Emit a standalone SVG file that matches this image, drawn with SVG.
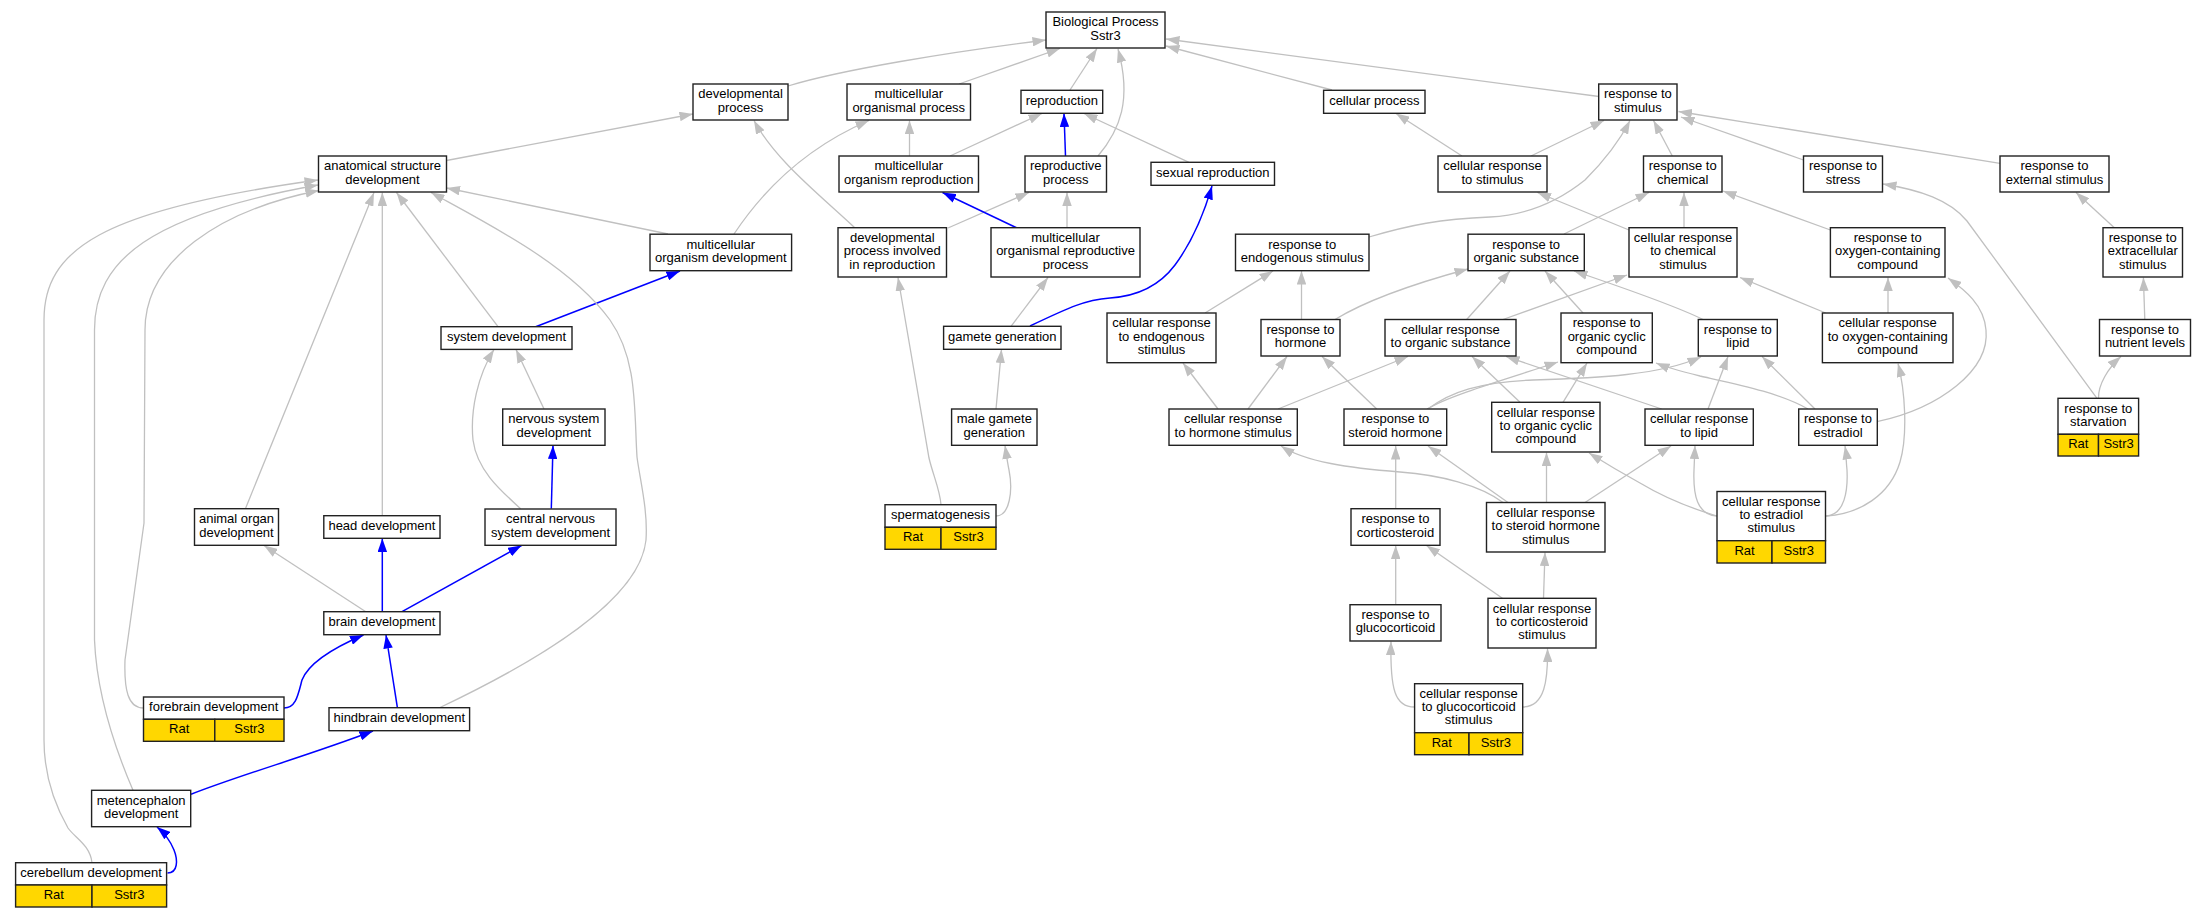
<svg xmlns="http://www.w3.org/2000/svg" width="2207" height="917" viewBox="0 0 2207 917">
<style>
.n rect{fill:#fff;stroke:#222;stroke-width:1.4}
.n rect.y{fill:#ffd700}
text{font-family:"Liberation Sans",Arial,sans-serif;font-size:13px;text-anchor:middle;fill:#000}
#edges path{fill:none;stroke:#c0c0c0;stroke-width:1.3;marker-end:url(#ag)}
#edges path.b{stroke:#0000ff;stroke-width:1.5;marker-end:url(#ab)}
</style>
<defs>
<marker id="ag" viewBox="0 0 13.5 9.5" refX="13.5" refY="4.75" markerWidth="13.5" markerHeight="9.5" markerUnits="userSpaceOnUse" orient="auto"><path d="M0,0 L13.5,4.75 L0,9.5 z" fill="#c0c0c0"/></marker>
<marker id="ab" viewBox="0 0 13.5 9.5" refX="13.5" refY="4.75" markerWidth="13.5" markerHeight="9.5" markerUnits="userSpaceOnUse" orient="auto"><path d="M0,0 L13.5,4.75 L0,9.5 z" fill="#0000ff"/></marker>
</defs>
<rect width="2207" height="917" fill="#fff"/>
<g id="edges">
<path d="M788,86 C840,70 950,52 1046,40"/>
<path d="M959,84 L1060,48.5"/>
<path d="M1070,90 L1097,48.5"/>
<path d="M1098,156 C1120,130 1132,100 1118,49"/>
<path d="M1332,90 L1166,46"/>
<path d="M1599,96.5 L1166,39"/>
<path d="M446.5,160.5 L693,114"/>
<path d="M668,234 L446.5,188"/>
<path d="M734,234 C760,195 800,150 869,120.5"/>
<path d="M855,228 C820,195 775,160 754,120.5"/>
<path d="M948,228 L1029,192.5"/>
<path d="M909.5,156 L909.5,120.5"/>
<path d="M950,156 L1042,113.5"/>
<path class="b" d="M1065.5,156 L1064,113.5"/>
<path d="M1189,162.3 L1084,113.5"/>
<path class="b" d="M1017,228 L942.5,192.5"/>
<path d="M1067,228 L1067,192.5"/>
<path d="M1011,326.3 L1048,277.5"/>
<path class="b" d="M1030,326 C1070,307 1085,300 1110,298 C1140,296 1160,285 1175,265 C1195,238 1205,210 1212,186"/>
<path d="M996,409 L1001.5,349.5"/>
<path d="M996,516 C1010,516 1013,490 1009,470 C1007,460 1006,452 1005,445.5"/>
<path d="M941,504.7 C940,490 933,475 929,458 L898,277.5"/>
<path class="b" d="M535.7,326.7 L680,271"/>
<path d="M498,326.7 L396.5,192.5"/>
<path d="M544,409 L516,349.5"/>
<path d="M520.6,508.7 C500,490 477,470 473,440 C470,410 478,375 494,349.5"/>
<path class="b" d="M551.3,508.7 L553,445.5"/>
<path d="M245.4,508.7 L374,192.5"/>
<path d="M382.3,515.7 L382.3,192.5"/>
<path d="M365.8,611.7 L264,545.5"/>
<path class="b" d="M382.3,611.7 L382.3,538.5"/>
<path class="b" d="M402,611.7 L521.5,545.5"/>
<path class="b" d="M284,708 C296,708 298,695 302,680 C310,660 340,645 363.5,635"/>
<path d="M143.5,708 C128,708 124,690 125,660 L144,523 L145,330 C145,260 220,210 319,190.5"/>
<path class="b" d="M397.4,707.7 L386,635"/>
<path d="M439,708 C540,660 640,600 646,540 C648,510 640,480 637,457 C634,410 638,360 610,320 C570,265 490,225 431,192.5"/>
<path class="b" d="M191,794.3 C240,775 310,755 373,731"/>
<path d="M133,790.3 C120,760 97,700 94.5,640 L94.5,330 C94.5,260 150,215 318,185"/>
<path class="b" d="M167.5,873 C178,873 178,860 174,850 C170,840 163,832 157,827"/>
<path d="M92,862.7 C90,845 75,838 68,828 C52,800 44,770 44,740 L44,320 C44,250 100,210 318,180"/>
<path d="M1462,156 L1396,113.5"/>
<path d="M1531,156 L1604,120.5"/>
<path d="M1369,237 C1410,225 1440,219 1490,217 C1530,215 1560,200 1585,180 C1605,160 1620,140 1630,120.5"/>
<path d="M1672.3,156 L1653.5,120.5"/>
<path d="M1803.5,160 L1681,117"/>
<path d="M2000,163.3 L1678.5,111.5"/>
<path d="M1629,230 L1537.5,192.5"/>
<path d="M1684,228 L1684,192.5"/>
<path d="M1564,234 L1649,192.5"/>
<path d="M1830.4,230 L1723,191"/>
<path d="M2114.6,228 L2076,192.5"/>
<path d="M2144.8,319.5 L2143.4,277.5"/>
<path d="M2098.5,398.3 C2098,385 2108,368 2121,356.5"/>
<path d="M2097,398.3 L1967,221 C1950,200 1920,190 1883,184"/>
<path d="M1205,313 L1273,271"/>
<path d="M1301.5,319.5 L1301.5,271"/>
<path d="M1335,319.5 C1370,298 1420,282 1468,269"/>
<path d="M1466.7,319.5 L1510,271"/>
<path d="M1503,319.5 L1627,275"/>
<path d="M1583,313 L1545,271"/>
<path d="M1703,319.5 C1680,308 1630,290 1574,271"/>
<path d="M1825.7,313 L1740,277.5"/>
<path d="M1888,313 L1888,277.5"/>
<path d="M1877,421.7 C1940,408 1990,370 1986,330 C1984,305 1965,290 1948,278"/>
<path d="M1826,516 C1860,514 1890,495 1900,462 C1908,435 1905,390 1898,363.5"/>
<path d="M1826,516 C1845,515 1848,490 1847,470 C1846,460 1846,452 1845,446"/>
<path d="M1717,516 C1697,515 1693,495 1694,470 L1695,445.5"/>
<path d="M1717,516 C1690,508 1660,495 1640,483 C1620,472 1605,463 1589,453"/>
<path d="M1546.5,502.5 L1546.5,452.5"/>
<path d="M1585,502.5 L1671,446"/>
<path d="M1508,502.5 L1428,446"/>
<path d="M1503,502.5 C1480,485 1440,475 1400,472 C1350,468 1305,462 1281,446"/>
<path d="M1395.7,508.7 L1395.7,446"/>
<path d="M1395.7,604.7 L1395.7,545.5"/>
<path d="M1502.4,598.3 L1426.5,545.5"/>
<path d="M1543.5,598.3 L1545,552.5"/>
<path d="M1414.6,707 C1395,707 1390,690 1391,641.5"/>
<path d="M1522.7,707 C1545,707 1548,680 1547.5,648.5"/>
<path d="M1218,409 L1183,363"/>
<path d="M1248,409 L1287,356.5"/>
<path d="M1278,409 L1408,356.5"/>
<path d="M1376.7,409 L1322,356.5"/>
<path d="M1427,409 C1450,395 1510,378 1558,362"/>
<path d="M1428,409 C1450,392 1480,382 1533,380 C1600,378 1660,375 1701,357"/>
<path d="M1563,402.3 L1587,363"/>
<path d="M1520,402.3 L1472,356.5"/>
<path d="M1661.7,409 L1506,356.5"/>
<path d="M1708,409 L1728,356.5"/>
<path d="M1815,409 L1762,356.5"/>
<path d="M1808,409 C1780,393 1740,385 1700,376 C1680,371 1668,368 1656,363"/>
</g>
<g id="bp" class="n"><rect x="1046" y="12" width="119" height="36"/><text x="1105.5" y="26.3">Biological Process</text><text x="1105.5" y="39.5">Sstr3</text></g>
<g id="devproc" class="n"><rect x="693" y="84" width="95" height="36"/><text x="740.5" y="98.3">developmental</text><text x="740.5" y="111.6">process</text></g>
<g id="mop" class="n"><rect x="847" y="84" width="123.5" height="36"/><text x="908.75" y="98.3">multicellular</text><text x="908.75" y="111.6">organismal process</text></g>
<g id="repro" class="n"><rect x="1021" y="90.3" width="81.7" height="23"/><text x="1061.9" y="104.7">reproduction</text></g>
<g id="cellproc" class="n"><rect x="1323.6" y="90.3" width="101.4" height="23"/><text x="1374.3" y="104.7">cellular process</text></g>
<g id="rstim" class="n"><rect x="1598.7" y="84" width="78.3" height="36"/><text x="1637.9" y="98.3">response to</text><text x="1637.9" y="111.6">stimulus</text></g>
<g id="asd" class="n"><rect x="318.5" y="156" width="128" height="36"/><text x="382.5" y="170.3">anatomical structure</text><text x="382.5" y="183.6">development</text></g>
<g id="mor" class="n"><rect x="839" y="156" width="139.5" height="36"/><text x="908.75" y="170.3">multicellular</text><text x="908.75" y="183.6">organism reproduction</text></g>
<g id="rp" class="n"><rect x="1025" y="156" width="81.5" height="36"/><text x="1065.75" y="170.3">reproductive</text><text x="1065.75" y="183.6">process</text></g>
<g id="sexrep" class="n"><rect x="1151" y="162.3" width="123.5" height="23"/><text x="1212.75" y="176.7">sexual reproduction</text></g>
<g id="crs" class="n"><rect x="1438" y="156" width="109" height="36"/><text x="1492.5" y="170.3">cellular response</text><text x="1492.5" y="183.6">to stimulus</text></g>
<g id="rchem" class="n"><rect x="1643.5" y="156" width="78.5" height="36"/><text x="1682.75" y="170.3">response to</text><text x="1682.75" y="183.6">chemical</text></g>
<g id="rstress" class="n"><rect x="1803.5" y="156" width="79" height="36"/><text x="1843" y="170.3">response to</text><text x="1843" y="183.6">stress</text></g>
<g id="rext" class="n"><rect x="2000" y="156" width="109" height="36"/><text x="2054.5" y="170.3">response to</text><text x="2054.5" y="183.6">external stimulus</text></g>
<g id="mod" class="n"><rect x="650" y="234.2" width="141.6" height="36.5"/><text x="720.8" y="248.7">multicellular</text><text x="720.8" y="262">organism development</text></g>
<g id="dpir" class="n"><rect x="838" y="227.7" width="108.5" height="49.3"/><text x="892.25" y="241.9">developmental</text><text x="892.25" y="255.2">process involved</text><text x="892.25" y="268.5">in reproduction</text></g>
<g id="morp" class="n"><rect x="991" y="227.7" width="149" height="49.3"/><text x="1065.5" y="241.9">multicellular</text><text x="1065.5" y="255.2">organismal reproductive</text><text x="1065.5" y="268.5">process</text></g>
<g id="rendo" class="n"><rect x="1235.5" y="234.2" width="133.5" height="36.5"/><text x="1302.25" y="248.7">response to</text><text x="1302.25" y="262">endogenous stimulus</text></g>
<g id="rorg" class="n"><rect x="1468" y="234.2" width="116.3" height="36.5"/><text x="1526.15" y="248.7">response to</text><text x="1526.15" y="262">organic substance</text></g>
<g id="crchem" class="n"><rect x="1629" y="227.7" width="108" height="49.3"/><text x="1683" y="241.9">cellular response</text><text x="1683" y="255.2">to chemical</text><text x="1683" y="268.5">stimulus</text></g>
<g id="roxy" class="n"><rect x="1830.4" y="227.7" width="114.6" height="49.3"/><text x="1887.7" y="241.9">response to</text><text x="1887.7" y="255.2">oxygen-containing</text><text x="1887.7" y="268.5">compound</text></g>
<g id="rextra" class="n"><rect x="2103" y="227.7" width="79.5" height="49.3"/><text x="2142.75" y="241.9">response to</text><text x="2142.75" y="255.2">extracellular</text><text x="2142.75" y="268.5">stimulus</text></g>
<g id="sysdev" class="n"><rect x="441" y="326.7" width="131" height="22.7"/><text x="506.5" y="341">system development</text></g>
<g id="gamete" class="n"><rect x="943.6" y="326.3" width="117.4" height="23"/><text x="1002.3" y="340.7">gamete generation</text></g>
<g id="crendo" class="n"><rect x="1107" y="313" width="109" height="49.7"/><text x="1161.5" y="327.4">cellular response</text><text x="1161.5" y="340.7">to endogenous</text><text x="1161.5" y="354">stimulus</text></g>
<g id="rhorm" class="n"><rect x="1261" y="319.5" width="79" height="36.5"/><text x="1300.5" y="334">response to</text><text x="1300.5" y="347.3">hormone</text></g>
<g id="crorg" class="n"><rect x="1385" y="319.5" width="131" height="36.5"/><text x="1450.5" y="334">cellular response</text><text x="1450.5" y="347.3">to organic substance</text></g>
<g id="rcyc" class="n"><rect x="1561" y="313" width="91.3" height="49.7"/><text x="1606.65" y="327.4">response to</text><text x="1606.65" y="340.7">organic cyclic</text><text x="1606.65" y="354">compound</text></g>
<g id="rlipid" class="n"><rect x="1698.3" y="319.5" width="79" height="36.5"/><text x="1737.8" y="334">response to</text><text x="1737.8" y="347.3">lipid</text></g>
<g id="croxy" class="n"><rect x="1822.4" y="313" width="130.6" height="49.7"/><text x="1887.7" y="327.4">cellular response</text><text x="1887.7" y="340.7">to oxygen-containing</text><text x="1887.7" y="354">compound</text></g>
<g id="rnutr" class="n"><rect x="2099.5" y="319.5" width="91" height="36.5"/><text x="2145" y="334">response to</text><text x="2145" y="347.3">nutrient levels</text></g>
<g id="nsd" class="n"><rect x="502.7" y="409" width="102.3" height="36.3"/><text x="553.85" y="423.4">nervous system</text><text x="553.85" y="436.7">development</text></g>
<g id="mgg" class="n"><rect x="951.6" y="409" width="85.4" height="36.3"/><text x="994.3" y="423.4">male gamete</text><text x="994.3" y="436.7">generation</text></g>
<g id="crhs" class="n"><rect x="1169" y="409" width="128.3" height="36.3"/><text x="1233.15" y="423.4">cellular response</text><text x="1233.15" y="436.7">to hormone stimulus</text></g>
<g id="rsh" class="n"><rect x="1344" y="409" width="102.7" height="36.3"/><text x="1395.35" y="423.4">response to</text><text x="1395.35" y="436.7">steroid hormone</text></g>
<g id="crcyc" class="n"><rect x="1491.7" y="402.3" width="108.3" height="49.7"/><text x="1545.85" y="416.7">cellular response</text><text x="1545.85" y="430">to organic cyclic</text><text x="1545.85" y="443.3">compound</text></g>
<g id="crlipid" class="n"><rect x="1645" y="409" width="108.3" height="36.3"/><text x="1699.15" y="423.4">cellular response</text><text x="1699.15" y="436.7">to lipid</text></g>
<g id="restr" class="n"><rect x="1798.7" y="409" width="78.6" height="36.3"/><text x="1838" y="423.4">response to</text><text x="1838" y="436.7">estradiol</text></g>
<g id="rstarv" class="n"><rect x="2058" y="398.3" width="80.6" height="36"/><text x="2098.3" y="412.6">response to</text><text x="2098.3" y="425.9">starvation</text><rect class="y" x="2058" y="434.3" width="40.5" height="21.7"/><rect class="y" x="2098.5" y="434.3" width="40.1" height="21.7"/><text x="2078.25" y="448">Rat</text><text x="2118.55" y="448">Sstr3</text></g>
<g id="aod" class="n"><rect x="194.5" y="508.7" width="84" height="36.6"/><text x="236.5" y="523.2">animal organ</text><text x="236.5" y="536.5">development</text></g>
<g id="headdev" class="n"><rect x="323.8" y="515.7" width="116.2" height="22.6"/><text x="381.9" y="529.9">head development</text></g>
<g id="cnsd" class="n"><rect x="485" y="509" width="131" height="36.3"/><text x="550.5" y="523.4">central nervous</text><text x="550.5" y="536.7">system development</text></g>
<g id="sperm" class="n"><rect x="885" y="504.7" width="111" height="22.6"/><text x="940.5" y="518.9">spermatogenesis</text><rect class="y" x="885" y="527.3" width="56" height="22"/><rect class="y" x="941" y="527.3" width="55" height="22"/><text x="913" y="541.2">Rat</text><text x="968.5" y="541.2">Sstr3</text></g>
<g id="rcort" class="n"><rect x="1351" y="508.7" width="89" height="36.6"/><text x="1395.5" y="523.2">response to</text><text x="1395.5" y="536.5">corticosteroid</text></g>
<g id="crsh" class="n"><rect x="1486.5" y="502.5" width="118.5" height="49.5"/><text x="1545.75" y="516.9">cellular response</text><text x="1545.75" y="530.2">to steroid hormone</text><text x="1545.75" y="543.5">stimulus</text></g>
<g id="crestr" class="n"><rect x="1717" y="491.5" width="108.5" height="49.2"/><text x="1771.25" y="505.7">cellular response</text><text x="1771.25" y="519">to estradiol</text><text x="1771.25" y="532.3">stimulus</text><rect class="y" x="1717" y="540.7" width="55" height="22.3"/><rect class="y" x="1772" y="540.7" width="53.5" height="22.3"/><text x="1744.5" y="554.7">Rat</text><text x="1798.75" y="554.7">Sstr3</text></g>
<g id="braindev" class="n"><rect x="323.8" y="611.7" width="116.2" height="23"/><text x="381.9" y="626.1">brain development</text></g>
<g id="rgluc" class="n"><rect x="1350" y="604.7" width="91" height="36.3"/><text x="1395.5" y="619.1">response to</text><text x="1395.5" y="632.4">glucocorticoid</text></g>
<g id="crcort" class="n"><rect x="1488" y="598.3" width="108" height="49.7"/><text x="1542" y="612.7">cellular response</text><text x="1542" y="626">to corticosteroid</text><text x="1542" y="639.3">stimulus</text></g>
<g id="forebrain" class="n"><rect x="143.5" y="697" width="140.5" height="22.3"/><text x="213.75" y="711">forebrain development</text><rect class="y" x="143.5" y="719.3" width="71.3" height="22"/><rect class="y" x="214.8" y="719.3" width="69.2" height="22"/><text x="179.15" y="733.2">Rat</text><text x="249.4" y="733.2">Sstr3</text></g>
<g id="hindbrain" class="n"><rect x="329" y="707.7" width="140.6" height="23"/><text x="399.3" y="722.1">hindbrain development</text></g>
<g id="crgluc" class="n"><rect x="1414.6" y="683.7" width="108.1" height="49"/><text x="1468.65" y="697.8">cellular response</text><text x="1468.65" y="711.1">to glucocorticoid</text><text x="1468.65" y="724.4">stimulus</text><rect class="y" x="1414.6" y="732.7" width="54.4" height="22"/><rect class="y" x="1469" y="732.7" width="53.7" height="22"/><text x="1441.8" y="746.6">Rat</text><text x="1495.85" y="746.6">Sstr3</text></g>
<g id="metdev" class="n"><rect x="91.6" y="790.3" width="99.1" height="36.4"/><text x="141.15" y="804.7">metencephalon</text><text x="141.15" y="818">development</text></g>
<g id="cereb" class="n"><rect x="15.6" y="862.7" width="151" height="22.3"/><text x="91.1" y="876.7">cerebellum development</text><rect class="y" x="15.6" y="885" width="76.4" height="22"/><rect class="y" x="92" y="885" width="74.6" height="22"/><text x="53.8" y="898.9">Rat</text><text x="129.3" y="898.9">Sstr3</text></g>
</svg>
